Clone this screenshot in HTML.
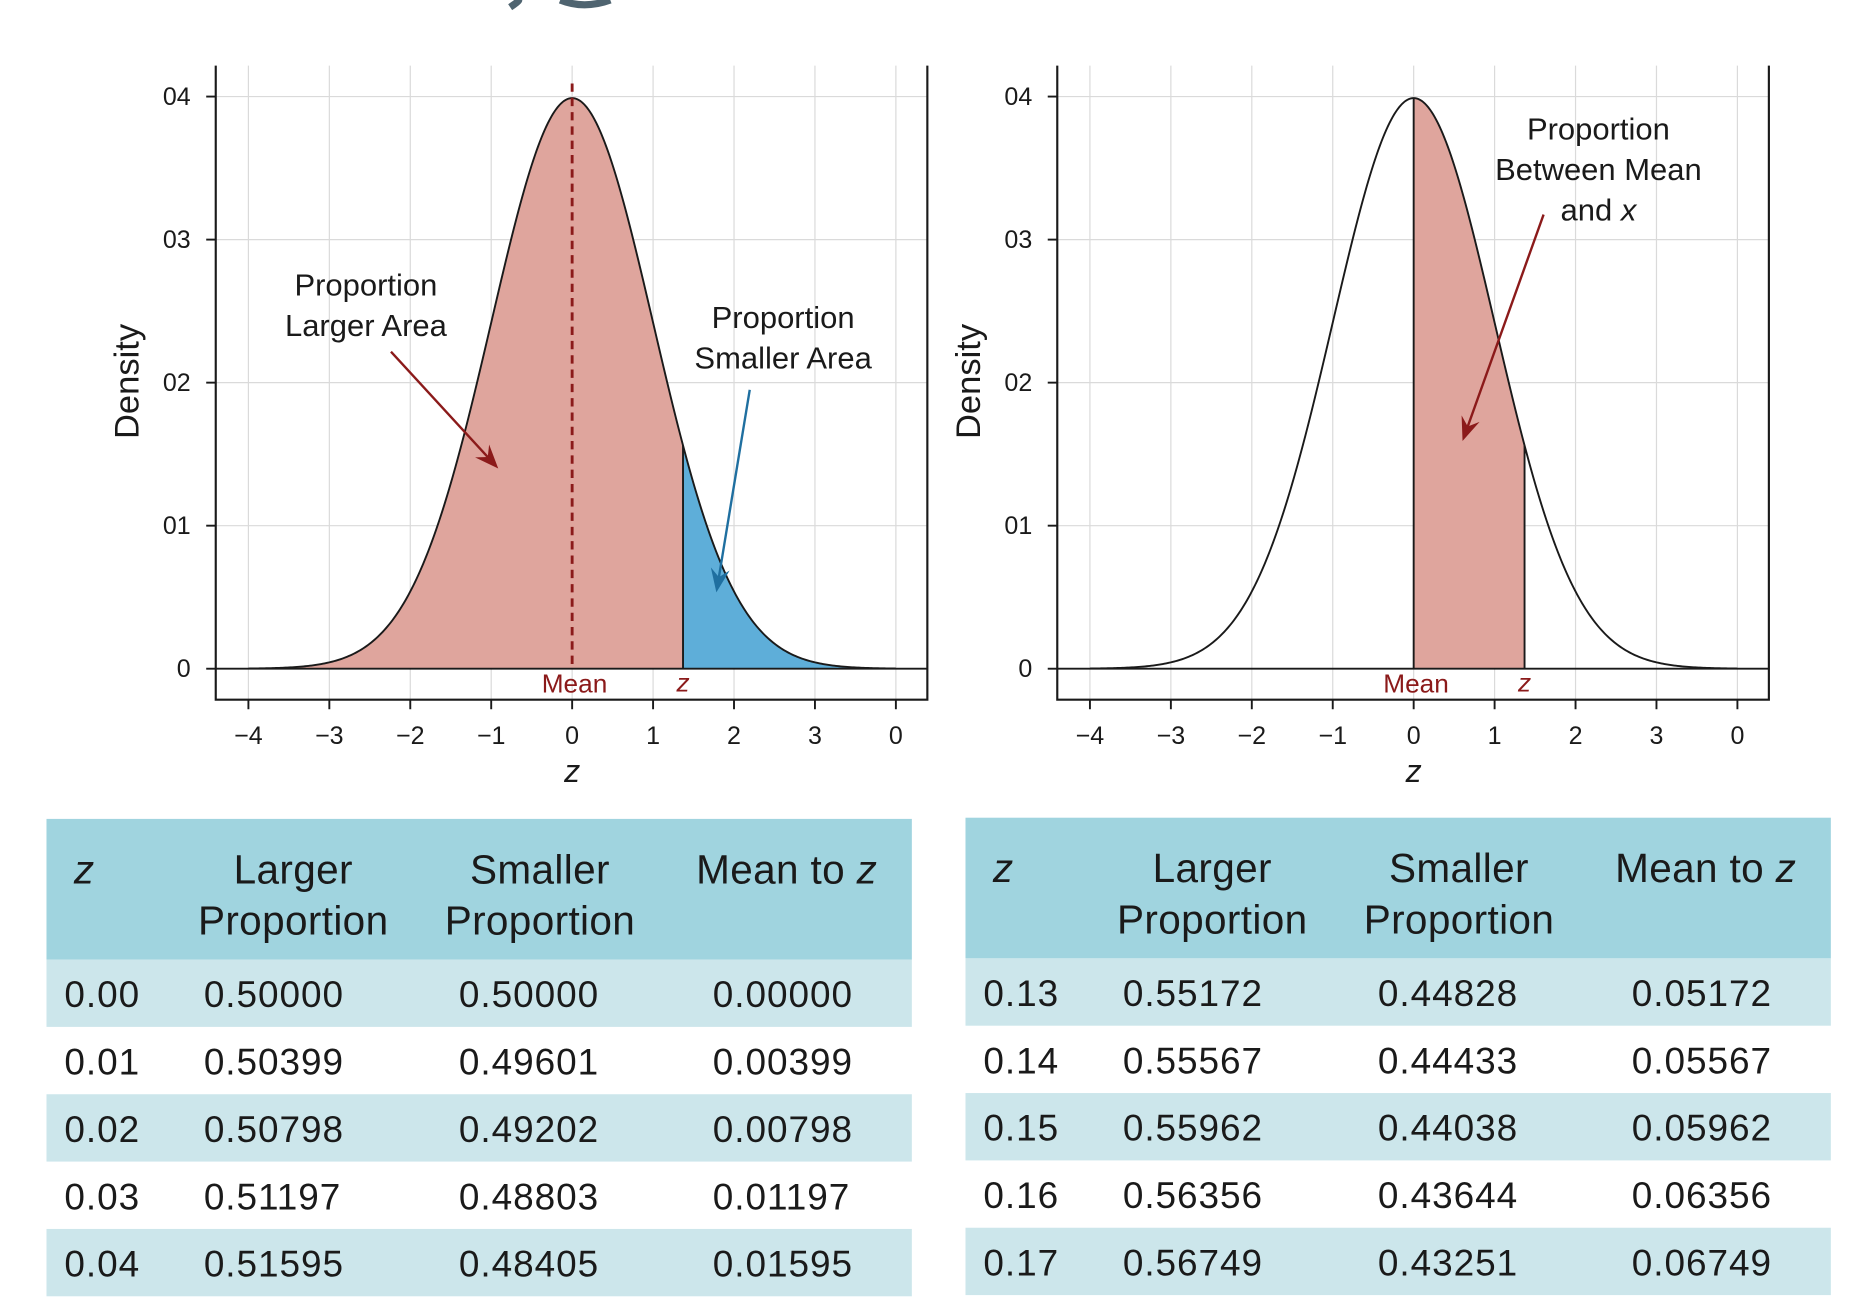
<!DOCTYPE html>
<html><head><meta charset="utf-8">
<style>
html,body{margin:0;padding:0;background:#fff;}
svg{display:block;font-family:"Liberation Sans",Arial,sans-serif;}
</style></head>
<body>
<svg id="root" width="1869" height="1305" viewBox="0 0 1568 1094.8" xmlns="http://www.w3.org/2000/svg">
<path d="M432 0 Q440 -2 428 6 M470 0 Q490 8 512 0" stroke="#4f6470" stroke-width="6" fill="none"/>
<g id="panels"></g>
<g id="tables"></g>
</svg>
<script>
const xTicks=[-4,-3,-2,-1,0,1,2,3,4];
const xTickLabels=["\u22124","\u22123","\u22122","\u22121","0","1","2","3","0"];
const yTicks=[0,0.1,0.2,0.3,0.4];
const yTickLabels=["0","01","02","03","04"];
const zCut=1.37;
const headers=["z","Larger|Proportion","Smaller|Proportion","Mean to z"];
const leftZ=["0.00","0.01","0.02","0.03","0.04"];
const leftLarger=["0.50000","0.50399","0.50798","0.51197","0.51595"];
const leftSmaller=["0.50000","0.49601","0.49202","0.48803","0.48405"];
const leftMean=["0.00000","0.00399","0.00798","0.01197","0.01595"];
const rightZ=["0.13","0.14","0.15","0.16","0.17"];
const rightLarger=["0.55172","0.55567","0.55962","0.56356","0.56749"];
const rightSmaller=["0.44828","0.44433","0.44038","0.43644","0.43251"];
const rightMean=["0.05172","0.05567","0.05962","0.06356","0.06749"];

const NS="http://www.w3.org/2000/svg";
function mk(tag,attrs,parent){const e=document.createElementNS(NS,tag);for(const k in attrs)e.setAttribute(k,attrs[k]);parent.appendChild(e);return e;}
function txt(s,attrs,parent){const e=mk('text',attrs,parent);e.textContent=s;return e;}
const pdf=x=>Math.exp(-x*x/2)/Math.sqrt(2*Math.PI);

function panel(offX,mode){
  const g=mk('g',{},document.getElementById('panels'));
  
  
  const X=v=>offX+480+v*67.9;
  const Y=v=>561-v*1200;
  const L=offX+181,R=offX+778,T=55,B=587;
  xTicks.forEach(v=>{const l=mk('line',{x1:X(v),x2:X(v),y1:T,y2:B,stroke:'#dadada','stroke-width':1},g);
    });
  yTicks.forEach(v=>{const l=mk('line',{x1:L,x2:R,y1:Y(v),y2:Y(v),stroke:'#dadada','stroke-width':1},g);
    });
  const pts=[];for(let i=0;i<=400;i++){const x=-4+8*i/400;pts.push([x,pdf(x)]);}
  const area=(a,b)=>{let d=`M${X(a)},${Y(0)}`;pts.forEach(p=>{if(p[0]>=a&&p[0]<=b)d+=` L${X(p[0])},${Y(p[1])}`;});d+=` L${X(b)},${Y(pdf(b))} L${X(b)},${Y(0)} Z`;return d;};
  if(mode==='tails'){
    const a1=mk('path',{d:area(-4,zCut),fill:'#dfa59d'},g);
    
    const a2=mk('path',{d:area(zCut,4),fill:'#5eaed9'},g);
    
  } else {
    const a1=mk('path',{d:area(0,zCut),fill:'#dfa59d'},g);
    
    const ml=mk('line',{x1:X(0),x2:X(0),y1:Y(0),y2:Y(pdf(0)),stroke:'#1a1a1a','stroke-width':1.6},g);
    
  }
  const zl=mk('line',{x1:X(zCut),x2:X(zCut),y1:Y(0),y2:Y(pdf(zCut)),stroke:'#1a1a1a','stroke-width':1.6},g);
  
  let d='';pts.forEach((p,i)=>{d+=(i?' L':'M')+X(p[0])+','+Y(p[1]);});
  const c=mk('path',{d:d,fill:'none',stroke:'#1a1a1a','stroke-width':1.6},g);
  
  if(mode==='tails'){
    const dl=mk('line',{x1:X(0),x2:X(0),y1:70,y2:Y(0),stroke:'#8b1a1a','stroke-width':2.4,'stroke-dasharray':'7,5'},g);
    
  }
  const zl0=mk('line',{x1:L,x2:R,y1:Y(0),y2:Y(0),stroke:'#1a1a1a','stroke-width':1.6},g);
  
  const fr=mk('path',{d:`M${L},${T} L${L},${B} L${R},${B} L${R},${T}`,fill:'none',stroke:'#1a1a1a','stroke-width':1.8},g);
  
  xTicks.forEach((v,i)=>{
    const t=mk('line',{x1:X(v),x2:X(v),y1:B,y2:B+8,stroke:'#1a1a1a','stroke-width':1.6},g);
    
    const l=txt(xTickLabels[i],{x:X(v),y:624,'text-anchor':'middle','font-size':21,fill:'#1a1a1a'},g);
    
  });
  yTicks.forEach((v,i)=>{
    const t=mk('line',{x1:L-8,x2:L,y1:Y(v),y2:Y(v),stroke:'#1a1a1a','stroke-width':1.6},g);
    
    const l=txt(yTickLabels[i],{x:L-21,y:Y(v)+7,'text-anchor':'end','font-size':21,fill:'#1a1a1a'},g);
    
  });
  const xt=txt('z',{x:X(0),y:656,'text-anchor':'middle','font-size':27,'font-style':'italic',fill:'#1a1a1a'},g);
  
  const yt=txt('Density',{x:0,y:0,'text-anchor':'middle','font-size':29,fill:'#1a1a1a',transform:`translate(${offX+116},320) rotate(-90)`},g);
  
  const mlab=txt('Mean',{x:X(0)+2,y:581,'text-anchor':'middle','font-size':22,fill:'#8b1a1a'},g);
  
  const zlab=txt('z',{x:X(zCut),y:580,'text-anchor':'middle','font-size':22,'font-style':'italic',fill:'#8b1a1a'},g);
  
  const arrow=(x1,y1,x2,y2,col,name)=>{
    const a=mk('g',{},g);
    const ang=Math.atan2(y2-y1,x2-x1),h=20,w=8;
    mk('line',{x1:x1,y1:y1,x2:x2-Math.cos(ang)*10,y2:y2-Math.sin(ang)*10,stroke:col,'stroke-width':2},a);
    const bx=x2-Math.cos(ang)*h,by=y2-Math.sin(ang)*h;
    mk('path',{d:`M${x2},${y2} L${bx-Math.sin(ang)*w},${by+Math.cos(ang)*w} L${x2-Math.cos(ang)*13},${y2-Math.sin(ang)*13} L${bx+Math.sin(ang)*w},${by-Math.cos(ang)*w} Z`,fill:col},a);
  };
  const lines=(arr,cx,y0,name)=>{const t=mk('g',{},g);
    arr.forEach((s,i)=>{const e=mk('text',{x:cx,y:y0+i*34,'text-anchor':'middle','font-size':26,fill:'#1a1a1a'},t);e.innerHTML=s;});};
  if(mode==='tails'){
    lines(['Proportion','Larger Area'],offX+307,248,'larger-area-annotation');
    arrow(offX+328,295,offX+418,393,'#8b1a1a','larger-area-arrow');
    lines(['Proportion','Smaller Area'],offX+657,275,'smaller-area-annotation');
    arrow(offX+629,327,offX+601,497,'#1f6fa0','smaller-area-arrow');
  } else {
    lines(['Proportion','Between Mean','and <tspan font-style="italic">x</tspan>'],offX+635,117,'between-annotation');
    arrow(offX+589,180,offX+521,370,'#8b1a1a','between-arrow');
  }
}
panel(0,'tails');
panel(706,'between');

function table(offX,top,zs,lg,sm,mn,name){
  const g=mk('g',{},document.getElementById('tables'));
  
  const W=726,hH=118,rH=56.5;
  const hb=mk('rect',{x:offX,y:top,width:W,height:hH,fill:'#a0d4df'},g);
  
  const hx=[offX+23,offX+207,offX+414,offX+621];
  const hs={'font-size':34,'letter-spacing':0.3,fill:'#1a1a1a'};
  txt('z',Object.assign({x:hx[0],y:top+54,'font-style':'italic'},hs),g);
  [1,2].forEach(i=>{const p=headers[i].split('|');
    txt(p[0],Object.assign({x:hx[i],y:top+54,'text-anchor':'middle'},hs),g);
    txt(p[1],Object.assign({x:hx[i],y:top+97,'text-anchor':'middle'},hs),g);});
  const m=mk('text',Object.assign({x:hx[3],y:top+54,'text-anchor':'middle'},hs),g);
  m.innerHTML='Mean to <tspan font-style="italic">z</tspan>';
  const cx=[offX+15,offX+132,offX+346,offX+559];
  zs.forEach((z,i)=>{
    const y=top+hH+i*rH;
    if(i%2===0){const r=mk('rect',{x:offX,y:y,width:W,height:rH,fill:'#cce6eb'},g);
      }
    const row=mk('g',{},g);
    [z,lg[i],sm[i],mn[i]].forEach((s,j)=>txt(s,{x:cx[j],y:y+40,'font-size':31,'letter-spacing':0.8,fill:'#1a1a1a'},row));
  });
}
table(39,687,leftZ,leftLarger,leftSmaller,leftMean,'left-table');
table(810,686,rightZ,rightLarger,rightSmaller,rightMean,'right-table');
</script>
</body></html>
